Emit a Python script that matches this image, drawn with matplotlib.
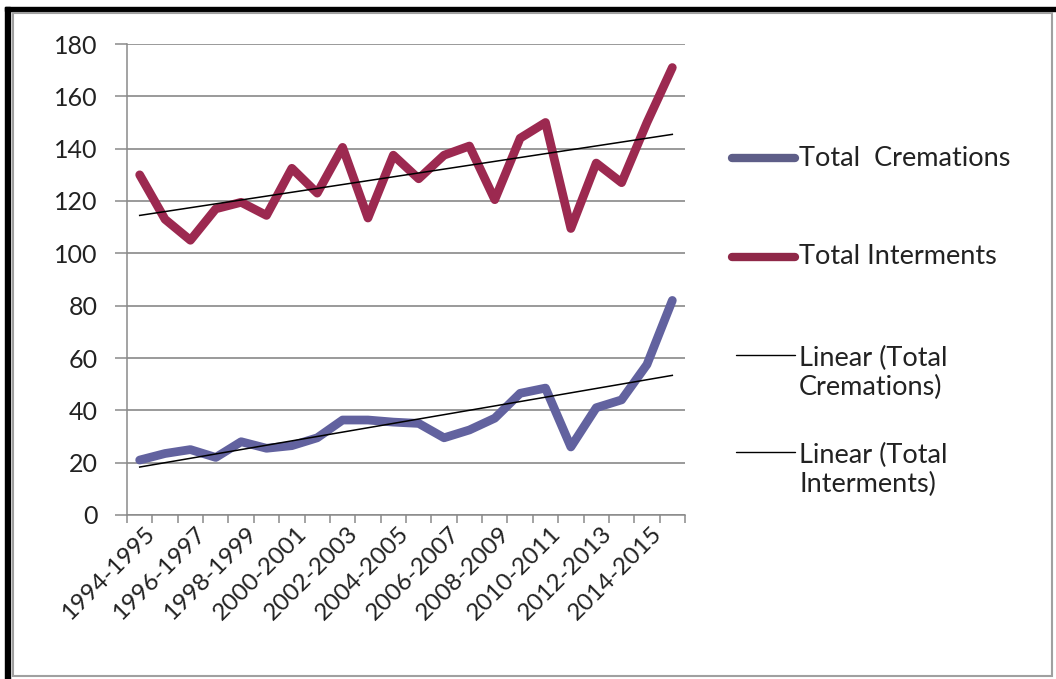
import numpy as np
import matplotlib
matplotlib.use("Agg")
import matplotlib.pyplot as plt
from matplotlib.lines import Line2D
from matplotlib.patches import Rectangle
from matplotlib.ticker import MultipleLocator, FixedLocator
from matplotlib.transforms import ScaledTranslation

categories = [f"{y}-{y+1}" for y in range(1994, 2016)]
cremations = [21, 23.5, 25, 22, 28, 25.5, 26.5, 29.5, 36.3, 36.3, 35.5, 35, 29.5, 32.5,
              37, 46.5, 48.5, 26, 41, 44, 57.5, 82]
interments = [130, 113, 105, 117, 119.5, 114.5, 132.5, 123, 140.5, 113.5, 137.5, 128.5,
              137.5, 141, 120.5, 144, 150, 109.5, 134.5, 127, 150, 171]

plt.rcParams['font.family'] = ['Lato', 'DejaVu Sans']

W, H = 1056, 679
fig = plt.figure(figsize=(W / 100, H / 100), dpi=100)
fig.patch.set_facecolor('white')

# frame
fig.patches.append(Rectangle((5 / W, 0), 5 / W, 1 - 7 / H, transform=fig.transFigure,
                             color='black', zorder=0))
fig.patches.append(Rectangle((5 / W, 1 - 11 / H), 1 - 5 / W, 4 / H, transform=fig.transFigure,
                             color='black', zorder=0))
fig.patches.append(Rectangle((13 / W, 3 / H), 1 - 17 / W, 1 - 16 / H, transform=fig.transFigure,
                             fill=False, edgecolor='#a0a0a0', lw=1.5, zorder=0))

ax = fig.add_axes([127 / W, 1 - 515 / H, 558 / W, 471 / H])
x = np.arange(len(categories))

c_col = '#62629f'
i_col = '#9c2950'
ax.plot(x, cremations, color=c_col, lw=6.3, solid_joinstyle='round', solid_capstyle='round', zorder=3)
ax.plot(x, interments, color=i_col, lw=6.3, solid_joinstyle='round', solid_capstyle='round', zorder=3)

pc = np.polyfit(x, cremations, 1)
pi = np.polyfit(x, interments, 1)
ax.plot(x, np.polyval(pc, x), color='black', lw=1.1, zorder=4)
ax.plot(x, np.polyval(pi, x), color='black', lw=1.1, zorder=4)

ax.set_xlim(-0.5, len(categories) - 0.5)
ax.set_ylim(0, 180)
ax.yaxis.set_major_locator(MultipleLocator(20))
ax.grid(axis='y', color='#7f7f7f', lw=1.1)
ax.set_axisbelow(True)
for s in ['top', 'right']:
    ax.spines[s].set_visible(False)
for s in ['left', 'bottom']:
    ax.spines[s].set_color('#8a8a8a')
    ax.spines[s].set_linewidth(1.1)
ax.tick_params(axis='y', direction='out', length=9, width=1.1, color='#8a8a8a',
               labelsize=18, pad=12, labelcolor='#222222')

ax.xaxis.set_major_locator(FixedLocator(x[::2]))
ax.set_xticklabels(categories[::2], rotation=45, ha='right', va='center', rotation_mode='anchor',
                   fontsize=17.5, color='#222222')
ax.xaxis.set_minor_locator(FixedLocator(np.arange(-0.5, len(categories), 1)))
ax.tick_params(axis='x', which='major', length=0, pad=11)
ax.tick_params(axis='x', which='minor', length=6, width=1.1, color='#8a8a8a', direction='out')
for lab in ax.get_xticklabels():
    lab.set_transform(lab.get_transform() + ScaledTranslation(12 / 100, 0, fig.dpi_scale_trans))

# legend
entries = [
    (158, 158, "Total  Cremations", '#5e5e88', 6.0),
    (257, 257, "Total Interments", '#8f2848', 6.0),
    (355, 373, "Linear (Total\nCremations)", 'black', 1.0),
    (452, 470, "Linear (Total\nInterments)", 'black', 1.0),
]
for yl, yt, lab, col, lw in entries:
    x0 = 732 / W if lw > 2 else 736 / W
    fig.add_artist(Line2D([x0, 795 / W], [1 - yl / H, 1 - yl / H], transform=fig.transFigure,
                          color=col, lw=lw, solid_capstyle='round'))
    fig.text(799 / W, 1 - yt / H, lab, fontsize=19.5, va='center', ha='left', color='#222222',
             linespacing=1.2)

fig.savefig('out.png', dpi=100, facecolor='white')
